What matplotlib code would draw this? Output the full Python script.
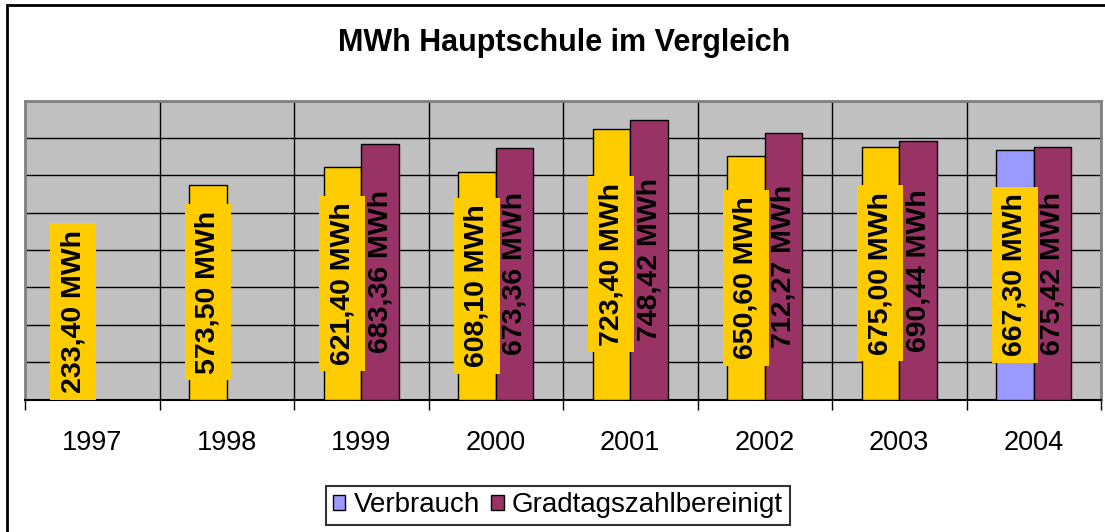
import numpy as np
import matplotlib
matplotlib.use("Agg")
import matplotlib.pyplot as plt
from matplotlib.patches import Patch, Rectangle

plt.rcParams["font.family"] = ["Liberation Sans", "DejaVu Sans"]

# Daten
jahre = ["1997", "1998", "1999", "2000", "2001", "2002", "2003", "2004"]
verbrauch = [233.40, 573.50, 621.40, 608.10, 723.40, 650.60, 675.00, 667.30]
bereinigt = [np.nan, np.nan, 683.36, 673.36, 748.42, 712.27, 690.44, 675.42]

GELB = "#FFCC00"
BLAU = "#9999FF"
LILA = "#993366"
farben_verbrauch = [GELB] * 7 + [BLAU]


def fmt(v):
    return f"{v:.2f}".replace(".", ",") + " MWh"


W, H = 1105, 532
fig = plt.figure(figsize=(W / 100, H / 100), dpi=100)
ax = fig.add_axes([25 / W, 1 - 399.5 / H, 1076 / W, 299 / H])
ax.set_facecolor("#C0C0C0")

x = np.arange(len(jahre)) + 0.5
bw = 0.28
ax.bar(x - bw / 2, verbrauch, bw, color=farben_verbrauch, edgecolor="black", linewidth=1, zorder=3)
ax.bar(x + bw / 2, bereinigt, bw, color=LILA, edgecolor="black", linewidth=1, zorder=3)

ax.set_xlim(0, 8)
ax.set_ylim(0, 800)
ax.set_yticks(np.arange(0, 801, 100))
ax.yaxis.grid(True, color="black", linewidth=1)
ax.tick_params(axis="y", left=False, labelleft=False)

ax.set_xticks(np.arange(9))
ax.set_xticklabels([])
ax.set_xticks(x, minor=True)
ax.set_xticklabels(jahre, minor=True, fontsize=19.5)
ax.tick_params(axis="x", which="major", direction="out", length=7, width=1, color="black")
ax.tick_params(axis="x", which="minor", length=0, pad=22)
ax.xaxis.grid(True, which="major", color="black", linewidth=1)
ax.set_axisbelow(True)

for s in ["top", "left", "right"]:
    ax.spines[s].set_color("#808080")
    ax.spines[s].set_linewidth(2)
ax.spines["bottom"].set_color("black")
ax.spines["bottom"].set_linewidth(1.5)

# Datenbeschriftungen
gelbe_labels = []
for xi, v in zip(x, verbrauch):
    t = ax.text(xi - bw / 2, v / 2, fmt(v), rotation=90, ha="center", va="center",
                fontsize=20.5, fontweight="bold", zorder=5)
    gelbe_labels.append(t)
for xi, v in zip(x, bereinigt):
    if np.isnan(v):
        continue
    ax.text(xi + bw / 2, v / 2, fmt(v), rotation=90, ha="center", va="center",
            fontsize=20.5, fontweight="bold", zorder=5)

# gelbe Kaesten hinter den Verbrauch-Beschriftungen, nicht unter die Achse
fig.canvas.draw()
r = fig.canvas.get_renderer()
ax_bottom = ax.get_window_extent(r).y0
inv = ax.transData.inverted()
pad_x, pad_y = 10, 6.5
for t in gelbe_labels:
    ext = t.get_window_extent(r)
    x0, x1 = ext.x0 - pad_x, ext.x1 + pad_x
    y0, y1 = ext.y0 - pad_y, ext.y1 + pad_y
    if y0 < ax_bottom:
        dy = ax_bottom - y0
        y0 += dy
        y1 += dy
        xd, yd = ax.transData.transform(t.get_position())
        t.set_position(inv.transform((xd, yd + dy)))
    (dx0, dy0), (dx1, dy1) = inv.transform([(x0, y0), (x1, y1)])
    ax.add_patch(Rectangle((dx0, dy0), dx1 - dx0, dy1 - dy0, facecolor=GELB,
                           edgecolor="none", zorder=4))

fig.text(564 / W, 1 - 43 / H, "MWh Hauptschule im Vergleich", ha="center", va="center",
         fontsize=22, fontweight="bold")

handles = [Patch(facecolor=BLAU, edgecolor="black", label="Verbrauch"),
           Patch(facecolor=LILA, edgecolor="black", label="Gradtagszahlbereinigt")]
leg = fig.legend(handles=handles, loc="center", bbox_to_anchor=(558 / W, 1 - 505.5 / H), ncol=2,
                 fontsize=20, frameon=True, fancybox=False, edgecolor="black",
                 handlelength=0.45, handleheight=0.45, handletextpad=0.3, columnspacing=0.4,
                 borderpad=0.25, borderaxespad=0)
leg.get_frame().set_linewidth(1.5)

# Rahmen um das Diagramm
fig.add_artist(Rectangle((7 / W, -0.1), 1.2, 1 - 5 / H + 0.1, transform=fig.transFigure,
                         fill=False, edgecolor="black", linewidth=2))

fig.savefig("out.png", dpi=100)
